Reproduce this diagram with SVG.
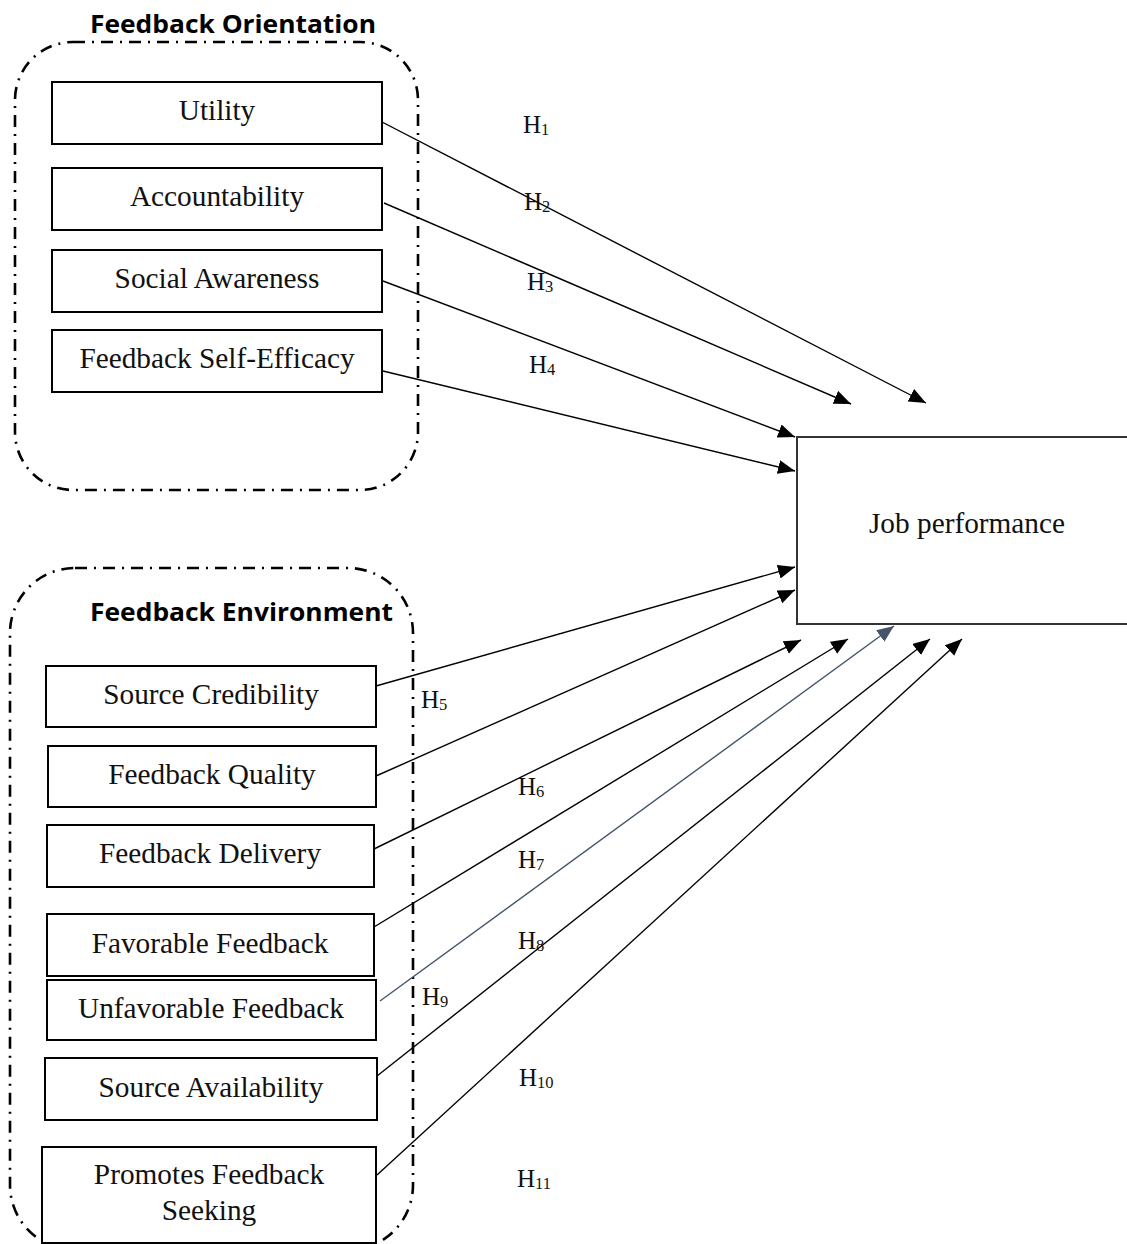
<svg xmlns="http://www.w3.org/2000/svg" width="1127" height="1244" viewBox="0 0 1127 1244">
<defs>
<style>
.grp{fill:none;stroke:#000;stroke-width:2.6;stroke-dasharray:12 7 2 7}
.box{fill:#fff;stroke:#000;stroke-width:2}
.lbl{font-family:"Liberation Serif","Times New Roman",serif;font-size:29.3px;fill:#111;text-anchor:middle}
.ttl{font-family:"Open Sans","Liberation Sans",sans-serif;font-size:25px;font-weight:bold;fill:#000}
.h{font-family:"Liberation Serif","Times New Roman",serif;font-size:25px;fill:#111}
.sub{font-size:16.5px}
.con{stroke:#000;stroke-width:1.4;fill:none;marker-end:url(#ah)}
.con2{stroke:#44546A;stroke-width:1.4;fill:none;marker-end:url(#ah2)}
</style>
<marker id="ah" markerUnits="userSpaceOnUse" markerWidth="18" markerHeight="15" refX="17" refY="7" orient="auto">
<path d="M0,0 L17,7 L0,14 Z" fill="#000"/>
</marker>
<marker id="ah2" markerUnits="userSpaceOnUse" markerWidth="18" markerHeight="15" refX="17" refY="7" orient="auto">
<path d="M0,0 L17,7 L0,14 Z" fill="#44546A"/>
</marker>
</defs>
<rect width="1127" height="1244" fill="#fff"/>

<g id="group-orientation">
<rect class="grp" x="15" y="42" width="403" height="448" rx="58" ry="58"/>
<text class="ttl" x="90" y="33" textLength="286" lengthAdjust="spacingAndGlyphs">Feedback Orientation</text>
</g>
<g id="group-environment">
<rect class="grp" x="10" y="568" width="403" height="682" rx="65" ry="65"/>
<text class="ttl" x="90" y="621" textLength="303" lengthAdjust="spacingAndGlyphs">Feedback Environment</text>
</g>

<g id="connectors">
<line class="con" x1="382" y1="122" x2="926" y2="403"/>
<line class="con" x1="384" y1="203" x2="851" y2="404"/>
<line class="con" x1="383" y1="281" x2="795" y2="437"/>
<line class="con" x1="383" y1="371" x2="795" y2="471"/>
<line class="con" x1="376" y1="686" x2="795" y2="567"/>
<line class="con" x1="376" y1="776" x2="795" y2="590"/>
<line class="con" x1="374" y1="849" x2="801" y2="640"/>
<line class="con" x1="374" y1="927" x2="848" y2="639"/>
<line class="con2" x1="380" y1="1001" x2="894" y2="626"/>
<line class="con" x1="377" y1="1076" x2="930" y2="639"/>
<line class="con" x1="377" y1="1175" x2="962" y2="639"/>
</g>

<g id="hyp-labels">
<text class="h" x="523" y="133">H<tspan class="sub" dy="2">1</tspan></text>
<text class="h" x="524" y="210">H<tspan class="sub" dy="2">2</tspan></text>
<text class="h" x="527" y="290">H<tspan class="sub" dy="2">3</tspan></text>
<text class="h" x="529" y="373">H<tspan class="sub" dy="2">4</tspan></text>
<text class="h" x="421" y="708">H<tspan class="sub" dy="2">5</tspan></text>
<text class="h" x="518" y="795">H<tspan class="sub" dy="2">6</tspan></text>
<text class="h" x="518" y="868">H<tspan class="sub" dy="2">7</tspan></text>
<text class="h" x="518" y="949">H<tspan class="sub" dy="2">8</tspan></text>
<text class="h" x="422" y="1005">H<tspan class="sub" dy="2">9</tspan></text>
<text class="h" x="519" y="1086">H<tspan class="sub" dy="2">10</tspan></text>
<text class="h" x="517" y="1187">H<tspan class="sub" dy="2">11</tspan></text>
</g>

<g id="node-utility"><rect class="box" x="52" y="82" width="330" height="62"/><text class="lbl" x="217" y="120">Utility</text></g>
<g id="node-accountability"><rect class="box" x="52" y="168" width="330" height="62"/><text class="lbl" x="217" y="206">Accountability</text></g>
<g id="node-social-awareness"><rect class="box" x="52" y="250" width="330" height="62"/><text class="lbl" x="217" y="288">Social Awareness</text></g>
<g id="node-self-efficacy"><rect class="box" x="52" y="330" width="330" height="62"/><text class="lbl" x="217" y="368">Feedback Self-Efficacy</text></g>

<g id="node-source-credibility"><rect class="box" x="46" y="666" width="330" height="61"/><text class="lbl" x="211" y="704">Source Credibility</text></g>
<g id="node-feedback-quality"><rect class="box" x="48" y="746" width="328" height="61"/><text class="lbl" x="212" y="784">Feedback Quality</text></g>
<g id="node-feedback-delivery"><rect class="box" x="47" y="825" width="327" height="62"/><text class="lbl" x="210" y="863">Feedback Delivery</text></g>
<g id="node-favorable"><rect class="box" x="47" y="914" width="327" height="62"/><text class="lbl" x="210" y="953">Favorable Feedback</text></g>
<g id="node-unfavorable"><rect class="box" x="47" y="980" width="329" height="60"/><text class="lbl" x="211" y="1018">Unfavorable Feedback</text></g>
<g id="node-source-availability"><rect class="box" x="45" y="1058" width="332" height="62"/><text class="lbl" x="211" y="1097">Source Availability</text></g>
<g id="node-promotes-seeking"><rect class="box" x="42" y="1147" width="334" height="96"/><text class="lbl" x="209" y="1184">Promotes Feedback</text><text class="lbl" x="209" y="1220">Seeking</text></g>

<g id="node-job-performance"><rect class="box" x="797" y="437" width="340" height="187" style="stroke:#333"/><text class="lbl" x="967" y="533">Job performance</text></g>
</svg>
